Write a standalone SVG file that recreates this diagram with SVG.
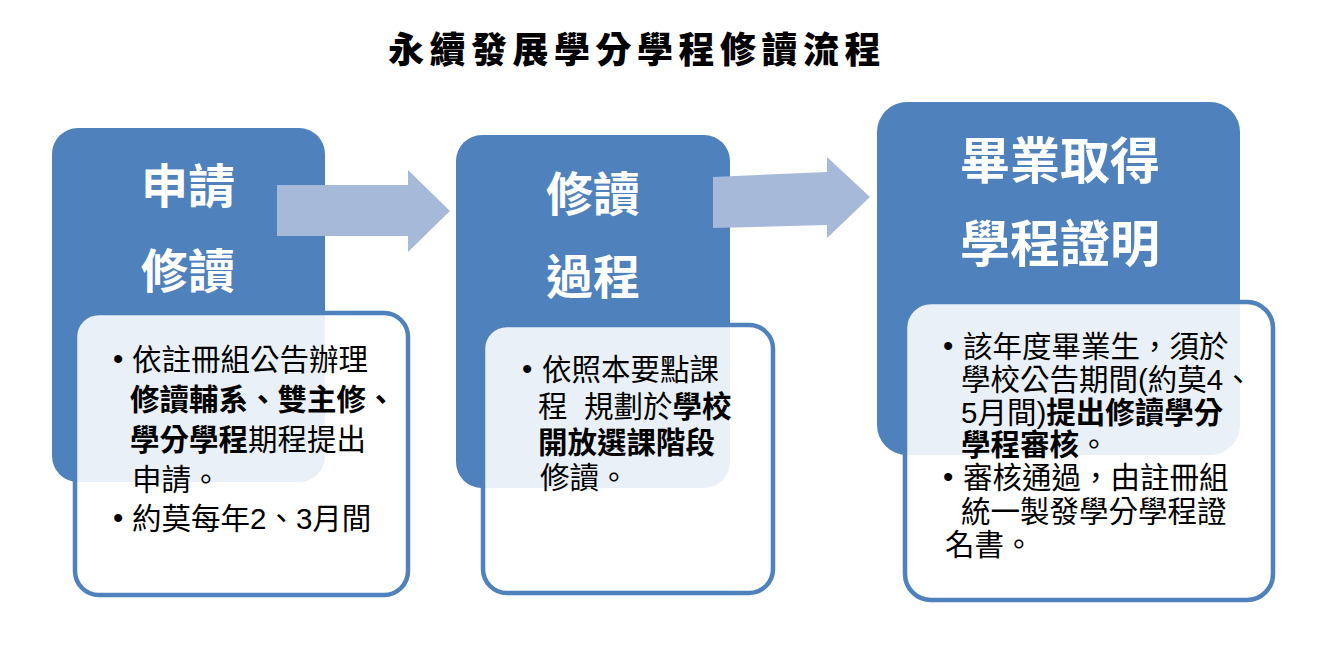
<svg xmlns="http://www.w3.org/2000/svg" width="1326" height="655" viewBox="0 0 1326 655">
<style>
.bg{fill:#ffffff}
.head{fill:#4F81BD}
.card{fill:#ffffff;fill-opacity:0.88;stroke:#4F81BD;stroke-width:4.5}
.arrow{fill:#A7B9D9}
.title{font-family:"Noto Sans CJK TC","Noto Sans CJK SC",sans-serif;font-weight:900;font-size:36px;fill:#000;letter-spacing:5.5px}
.ht{font-family:"Noto Sans CJK TC","Noto Sans CJK SC",sans-serif;font-weight:700;font-size:47px;fill:#ffffff;text-anchor:middle}
.ht3{font-size:50px}
.bt{font-family:"Liberation Sans","Noto Sans CJK TC",sans-serif;font-size:29.5px;fill:#000}
.b{font-weight:700}
</style>
<rect class="bg" x="0" y="0" width="1326" height="655"/>
<text class="title" x="637" y="63" text-anchor="middle">永續發展學分學程修讀流程</text>
<g id="node1">
  <rect class="head" x="52" y="128" width="273" height="354" rx="26"/>
  <text class="ht" x="188" y="203">申請</text>
  <text class="ht" x="188" y="288">修讀</text>
  <rect class="card" x="75" y="313" width="333" height="282" rx="24"/>
  <text class="bt" x="113" y="369">•</text>
  <text class="bt" x="132" y="370">依註冊組公告辦理</text>
  <text class="bt b" x="130" y="410">修讀輔系、雙主修、</text>
  <text class="bt" x="130" y="450"><tspan class="b">學分學程</tspan>期程提出</text>
  <text class="bt" x="132" y="490">申請。</text>
  <text class="bt" x="113" y="528">•</text>
  <text class="bt" x="132" y="529">約莫每年2、3月間</text>
</g>
<g id="node2">
  <rect class="head" x="456" y="135" width="274" height="353" rx="26"/>
  <text class="ht" x="593" y="211">修讀</text>
  <text class="ht" x="593" y="294">過程</text>
  <rect class="card" x="483" y="325" width="290" height="268" rx="24"/>
  <text class="bt" x="522" y="379">•</text>
  <text class="bt" x="542" y="380">依照本要點課</text>
  <text class="bt" x="538" y="417">程&#160;&#160;規劃於<tspan class="b">學校</tspan></text>
  <text class="bt b" x="538" y="453">開放選課階段</text>
  <text class="bt" x="540" y="488">修讀。</text>
</g>
<g id="node3">
  <rect class="head" x="877" y="102" width="363" height="353" rx="30"/>
  <text class="ht ht3" x="1060" y="179">畢業取得</text>
  <text class="ht ht3" x="1060" y="262">學程證明</text>
  <rect class="card" x="905" y="302" width="368" height="298" rx="26"/>
  <text class="bt" x="943" y="356">•</text>
  <text class="bt" x="963" y="357">該年度畢業生，須於</text>
  <text class="bt" x="961" y="390">學校公告期間(約莫4、</text>
  <text class="bt" x="961" y="423">5月間)<tspan class="b">提出修讀學分</tspan></text>
  <text class="bt" x="961" y="455"><tspan class="b">學程審核</tspan>。</text>
  <text class="bt" x="943" y="487">•</text>
  <text class="bt" x="963" y="488">審核通過，由註冊組</text>
  <text class="bt" x="961" y="522">統一製發學分學程證</text>
  <text class="bt" x="945" y="555">名書。</text>
</g>
<g id="connectors">
  <path class="arrow" d="M277,185 L408,185 L408,170 L450,211 L408,252 L408,236 L277,236 Z"/>
  <path class="arrow" d="M713,177 L827,172 L827,157 L870,197 L827,238 L827,225 L713,228 Z"/>
</g>
</svg>
